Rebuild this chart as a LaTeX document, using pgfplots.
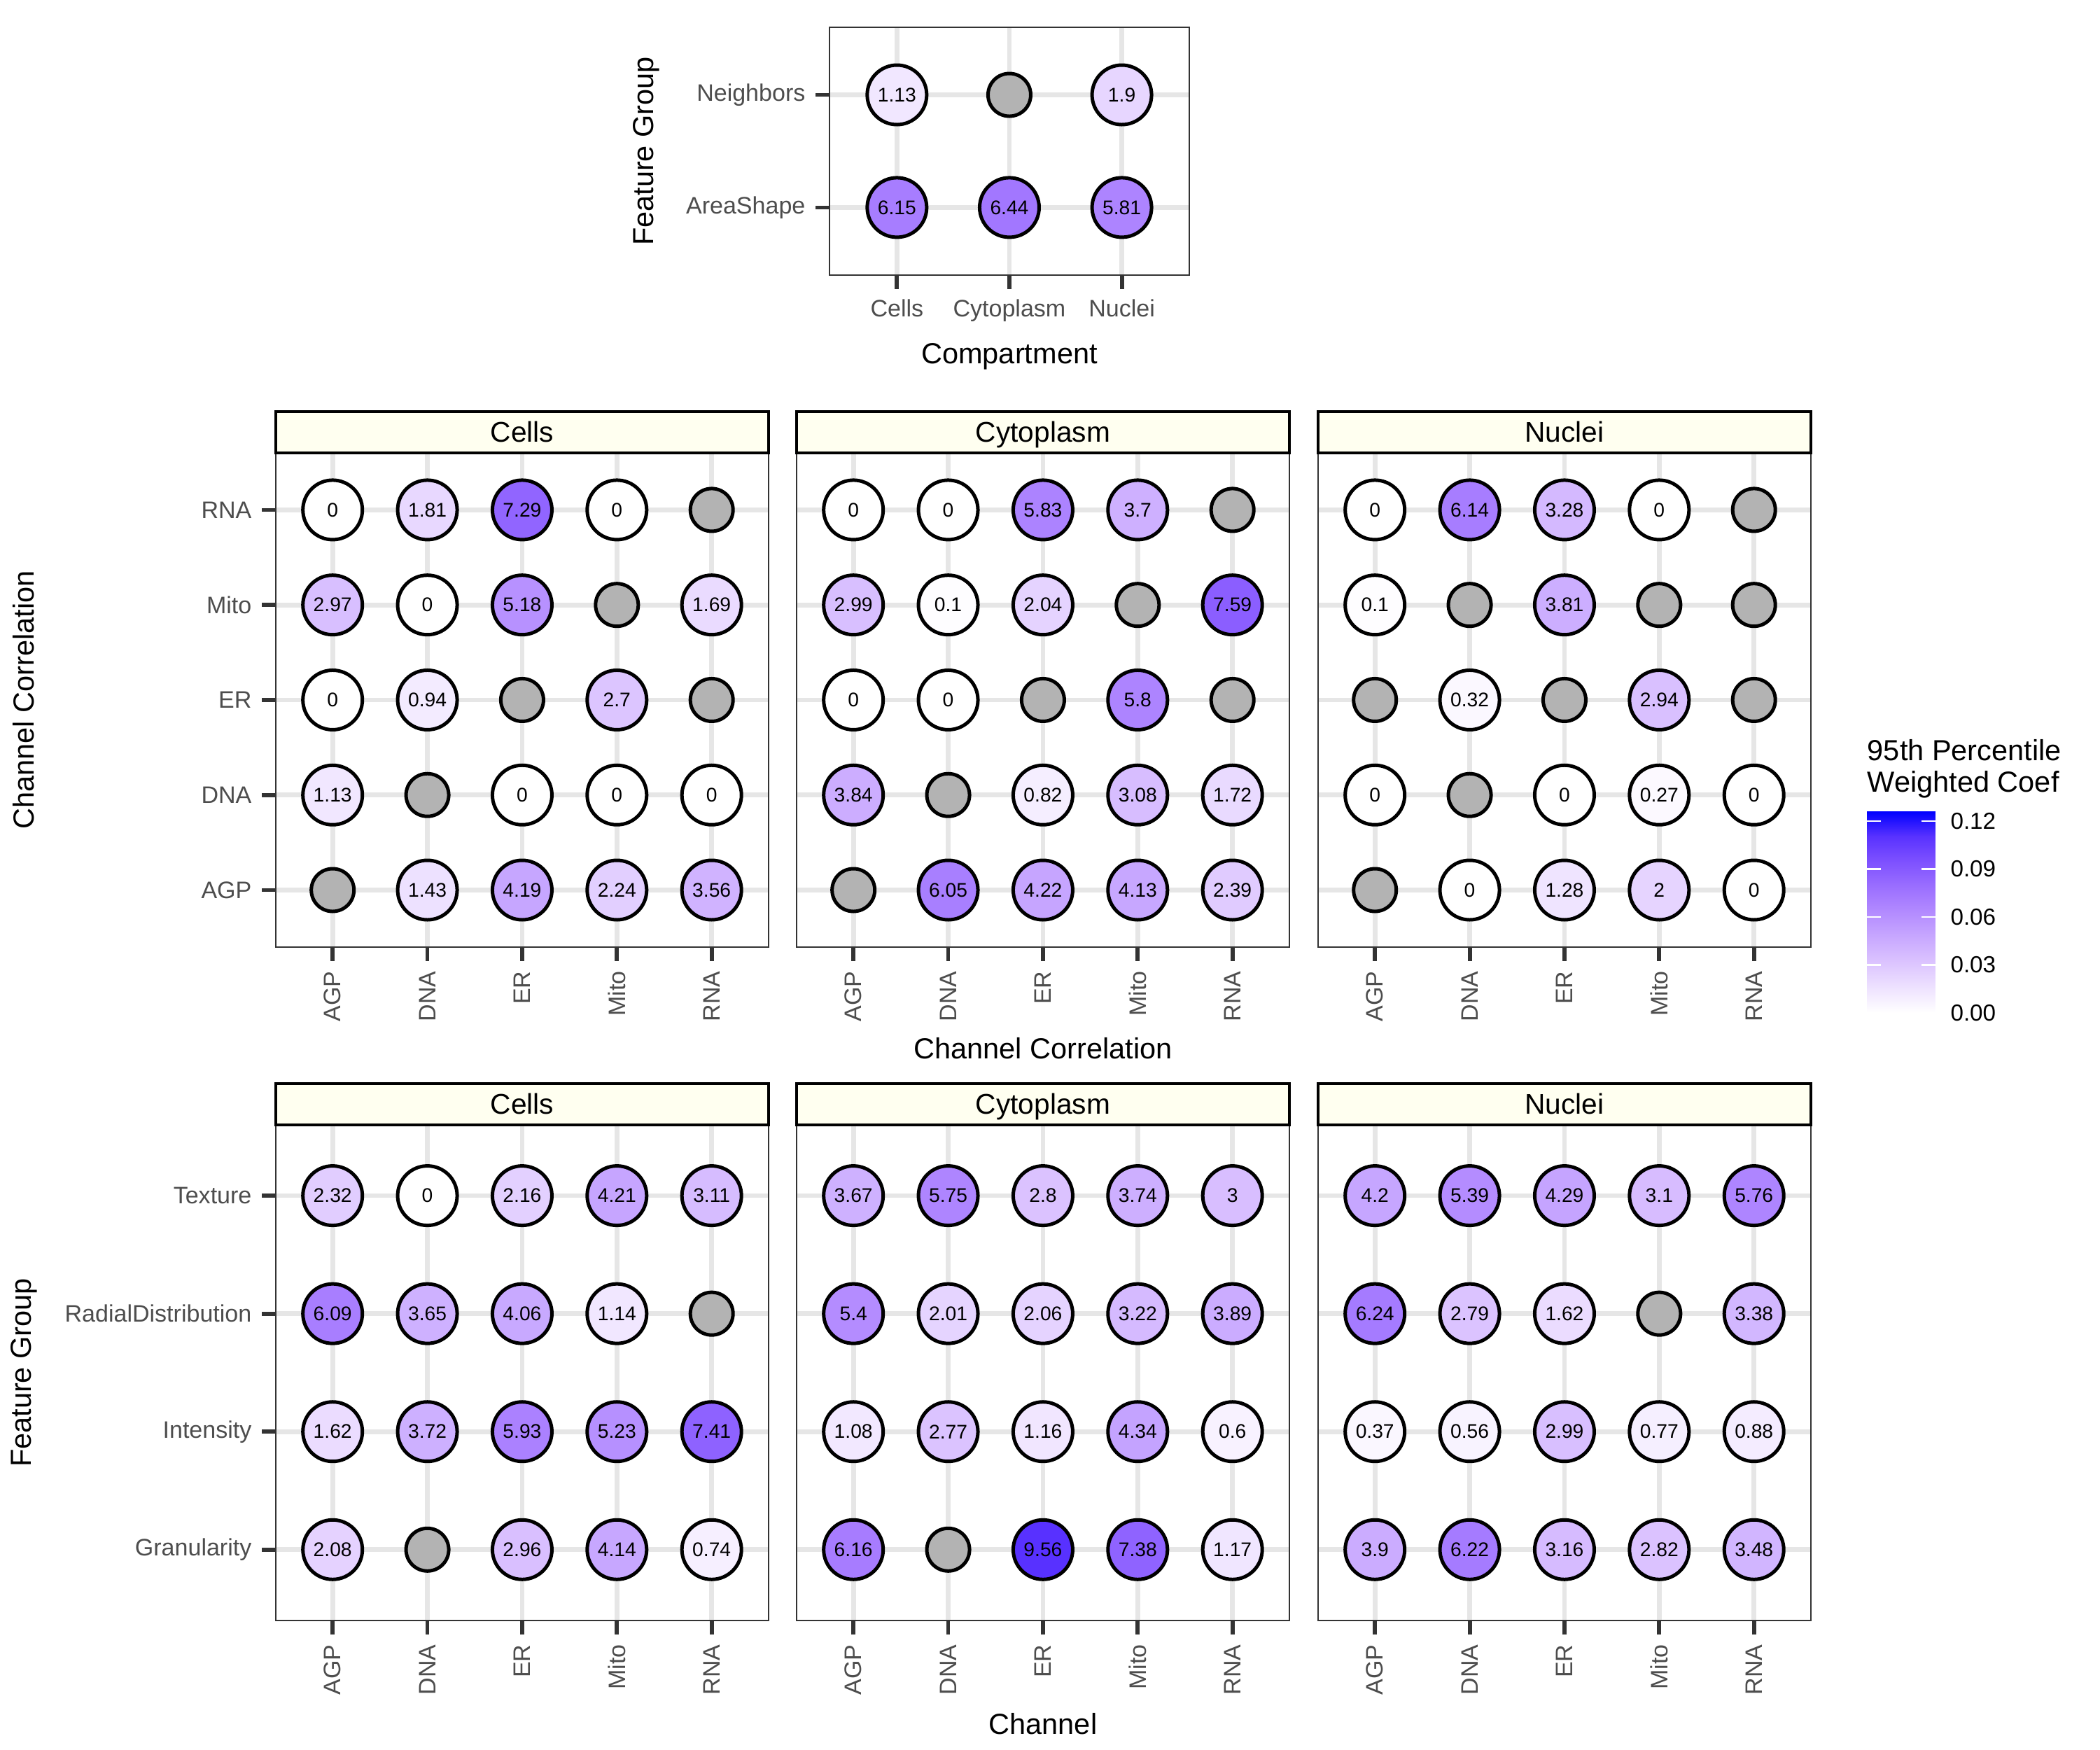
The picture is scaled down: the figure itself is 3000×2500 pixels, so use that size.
\documentclass[border=0pt]{standalone}
\usepackage{fontspec}
\setmainfont{Liberation Sans}
\usepackage{pgfplots}
\usepackage{pgfplotstable}
\pgfplotsset{compat=1.18}
\definecolor{gridc}{HTML}{E6E6E6}
\definecolor{frame}{HTML}{333333}
\definecolor{ticklab}{HTML}{4D4D4D}
\definecolor{nagray}{HTML}{B3B3B3}
\definecolor{stripfill}{HTML}{FFFFF0}
\pgfplotsset{
  /pgf/number format/assume math mode=true,
  colormap={wb}{rgb255=(255,255,255) rgb255=(238,226,255) rgb255=(220,196,255) rgb255=(200,168,255) rgb255=(179,139,255) rgb255=(155,111,255) rgb255=(126,81,255) rgb255=(89,50,255) rgb255=(0,0,255)},
  panel/.style={
    scale only axis,
    anchor=south west,
    axis line style={draw=frame, line width=0.6pt},
    grid=major,
    major grid style={draw=gridc, line width=1.6pt},
    tick align=outside,
    tick pos=left,
    major tick length=4.8pt,
    tick style={draw=frame, line width=1.4pt},
    tick label style={font=\fontsize{8.2}{9}\selectfont, text=ticklab},
    point meta min=0, point meta max=10.9,
  },
  five/.style={
    width=169.59pt,
    xmin=0.4, xmax=5.6,
    xtick={1,2,3,4,5}, xticklabels={AGP,DNA,ER,Mito,RNA},
    xticklabel style={rotate=90, anchor=east},
  },
  dots/.style={scatter, only marks, mark=*, mark size=10.24pt,
    point meta=explicit,
    scatter/use mapped color={draw=black, fill=mapped color, line width=1.2pt},
  },
  labs/.style={only marks, mark=none,
    point meta=explicit,
    nodes near coords, nodes near coords align=center,
    every node near coord/.append style={font=\fontsize{6.8}{7}\selectfont, text=black, inner sep=0pt},
  },
  nadots/.style={only marks, mark=*, mark size=7.35pt,
    mark options={draw=black, fill=nagray, line width=1.2pt}},
}
% ---------------- data ----------------
\pgfplotstableread{
x y v
1 2 1.13
3 2 1.9
1 1 6.15
2 1 6.44
3 1 5.81
}\topT
\pgfplotstableread{
x y v
1 5 0
2 5 1.81
3 5 7.29
4 5 0
1 4 2.97
2 4 0
3 4 5.18
5 4 1.69
1 3 0
2 3 0.94
4 3 2.7
1 2 1.13
3 2 0
4 2 0
5 2 0
2 1 1.43
3 1 4.19
4 1 2.24
5 1 3.56
}\mcells
\pgfplotstableread{
x y v
1 5 0
2 5 0
3 5 5.83
4 5 3.7
1 4 2.99
2 4 0.1
3 4 2.04
5 4 7.59
1 3 0
2 3 0
4 3 5.8
1 2 3.84
3 2 0.82
4 2 3.08
5 2 1.72
2 1 6.05
3 1 4.22
4 1 4.13
5 1 2.39
}\mcyto
\pgfplotstableread{
x y v
1 5 0
2 5 6.14
3 5 3.28
4 5 0
1 4 0.1
3 4 3.81
2 3 0.32
4 3 2.94
1 2 0
3 2 0
4 2 0.27
5 2 0
2 1 0
3 1 1.28
4 1 2
5 1 0
}\mnuc
\pgfplotstableread{
x y v
1 4 2.32
2 4 0
3 4 2.16
4 4 4.21
5 4 3.11
1 3 6.09
2 3 3.65
3 3 4.06
4 3 1.14
1 2 1.62
2 2 3.72
3 2 5.93
4 2 5.23
5 2 7.41
1 1 2.08
3 1 2.96
4 1 4.14
5 1 0.74
}\bcells
\pgfplotstableread{
x y v
1 4 3.67
2 4 5.75
3 4 2.8
4 4 3.74
5 4 3
1 3 5.4
2 3 2.01
3 3 2.06
4 3 3.22
5 3 3.89
1 2 1.08
2 2 2.77
3 2 1.16
4 2 4.34
5 2 0.6
1 1 6.16
3 1 9.56
4 1 7.38
5 1 1.17
}\bcyto
\pgfplotstableread{
x y v
1 4 4.2
2 4 5.39
3 4 4.29
4 4 3.1
5 4 5.76
1 3 6.24
2 3 2.79
3 3 1.62
5 3 3.38
1 2 0.37
2 2 0.56
3 2 2.99
4 2 0.77
5 2 0.88
1 1 3.9
2 1 6.22
3 1 3.16
4 1 2.82
5 1 3.48
}\bnuc
\begin{document}
\begin{tikzpicture}
\begin{scope}[x=0.2409pt,y=-0.2409pt]
\path[use as bounding box] (0,0) rectangle (3000,2500);
\end{scope}

% ---------------- top panel ----------------
\begin{axis}[panel, at={(285.47pt,-94.67pt)}, width=123.82pt, height=85.28pt,
  xmin=0.4, xmax=3.6, ymin=0.4, ymax=2.6,
  xtick={1,2,3}, xticklabels={Cells,Cytoplasm,Nuclei},
  ytick={1,2}, yticklabels={AreaShape,Neighbors}]
\addplot[nadots] coordinates {(2,2)};
\addplot[dots] table[meta=v] {\topT};
\addplot[labs] table[meta=v] {\topT};
\end{axis}

% ---------------- middle row ----------------
\begin{axis}[panel, five, at={(94.91pt,-325.94pt)}, height=170.08pt,
  ymin=0.4, ymax=5.6, ytick={1,2,3,4,5}, yticklabels={AGP,DNA,ER,Mito,RNA}]
\addplot[nadots] coordinates {(5,5) (4,4) (3,3) (5,3) (2,2) (1,1)};
\addplot[dots] table[meta=v] {\mcells};
\addplot[labs] table[meta=v] {\mcells};
\end{axis}

\begin{axis}[panel, five, at={(274.14pt,-325.94pt)}, height=170.08pt,
  ymin=0.4, ymax=5.6, ytick={1,2,3,4,5}, yticklabels={}, ytick style={draw=none}]
\addplot[nadots] coordinates {(5,5) (4,4) (3,3) (5,3) (2,2) (1,1)};
\addplot[dots] table[meta=v] {\mcyto};
\addplot[labs] table[meta=v] {\mcyto};
\end{axis}

\begin{axis}[panel, five, at={(453.62pt,-325.94pt)}, height=170.08pt,
  ymin=0.4, ymax=5.6, ytick={1,2,3,4,5}, yticklabels={}, ytick style={draw=none}]
\addplot[nadots] coordinates {(5,5) (2,4) (4,4) (5,4) (1,3) (3,3) (5,3) (2,2) (1,1)};
\addplot[dots] table[meta=v] {\mnuc};
\addplot[labs] table[meta=v] {\mnuc};
\end{axis}

% ---------------- bottom row ----------------
\begin{axis}[panel, five, at={(94.91pt,-557.68pt)}, height=170.56pt,
  ymin=0.4, ymax=4.6, ytick={1,2,3,4},
  yticklabels={Granularity,Intensity,RadialDistribution,Texture}]
\addplot[nadots] coordinates {(5,3) (2,1)};
\addplot[dots] table[meta=v] {\bcells};
\addplot[labs] table[meta=v] {\bcells};
\end{axis}

\begin{axis}[panel, five, at={(274.14pt,-557.68pt)}, height=170.56pt,
  ymin=0.4, ymax=4.6, ytick={1,2,3,4}, yticklabels={}, ytick style={draw=none}]
\addplot[nadots] coordinates {(2,1)};
\addplot[dots] table[meta=v] {\bcyto};
\addplot[labs] table[meta=v] {\bcyto};
\end{axis}

\begin{axis}[panel, five, at={(453.62pt,-557.68pt)}, height=170.56pt,
  ymin=0.4, ymax=4.6, ytick={1,2,3,4}, yticklabels={}, ytick style={draw=none}]
\addplot[nadots] coordinates {(4,3)};
\addplot[dots] table[meta=v] {\bnuc};
\addplot[labs] table[meta=v] {\bnuc};
\end{axis}

% ---------------- colour bar ----------------
\begin{axis}[at={(642.48pt,-348.58pt)}, anchor=south west, scale only axis,
  width=23.61pt, height=69.38pt,
  xmin=0, xmax=1, ymin=0, ymax=0.1261,
  axis on top,
  axis line style={draw=none},
  xtick=\empty, ytick={0,0.03,0.06,0.09,0.12},
  scaled y ticks=false,
  ytick pos=both, yticklabel pos=right,
  tick align=inside, major tick length=4.8pt,
  tick style={draw=white, line width=0.6pt},
  yticklabel style={font=\fontsize{8}{9}\selectfont, text=black, inner sep=0pt, xshift=5pt,
    /pgf/number format/fixed, /pgf/number format/fixed zerofill, /pgf/number format/precision=2},
  point meta min=0, point meta max=0.1261]
\addplot[surf, shader=interp, point meta=y] coordinates {
(0,0) (1,0)

(0,0.1261) (1,0.1261)
};
\end{axis}

% ---------------- strips, titles ----------------
\begin{scope}[x=0.2409pt,y=-0.2409pt]
\foreach \l/\t in {394/Cells,1138/Cytoplasm,1883/Nuclei}{
  \draw[draw=black, line width=0.8pt, fill=stripfill] (\l,588) rectangle ++(704,59);
  \node[font=\fontsize{9.8}{10}\selectfont, anchor=base, inner sep=0pt] at (\l+352,632) {\t};
  \draw[draw=black, line width=0.8pt, fill=stripfill] (\l,1548) rectangle ++(704,59);
  \node[font=\fontsize{9.8}{10}\selectfont, anchor=base, inner sep=0pt] at (\l+352,1592) {\t};
}
\node[font=\fontsize{10}{11}\selectfont, anchor=base, inner sep=0pt] at (1442,520) {Compartment};
\node[font=\fontsize{10}{11}\selectfont, rotate=90] at (923,216) {Feature Group};
\node[font=\fontsize{10}{11}\selectfont, rotate=90] at (34,1000) {Channel Correlation};
\node[font=\fontsize{10}{11}\selectfont, anchor=base, inner sep=0pt] at (1490,1513) {Channel Correlation};
\node[font=\fontsize{10}{11}\selectfont, rotate=90] at (34,1961) {Feature Group};
\node[font=\fontsize{10}{11}\selectfont, anchor=base, inner sep=0pt] at (1490,2477) {Channel};
\node[font=\fontsize{10}{10.84}\selectfont, anchor=north west, inner sep=0pt, align=left] at (2667,1056) {95th Percentile\\Weighted Coef};
\end{scope}
\end{tikzpicture}
\end{document}
